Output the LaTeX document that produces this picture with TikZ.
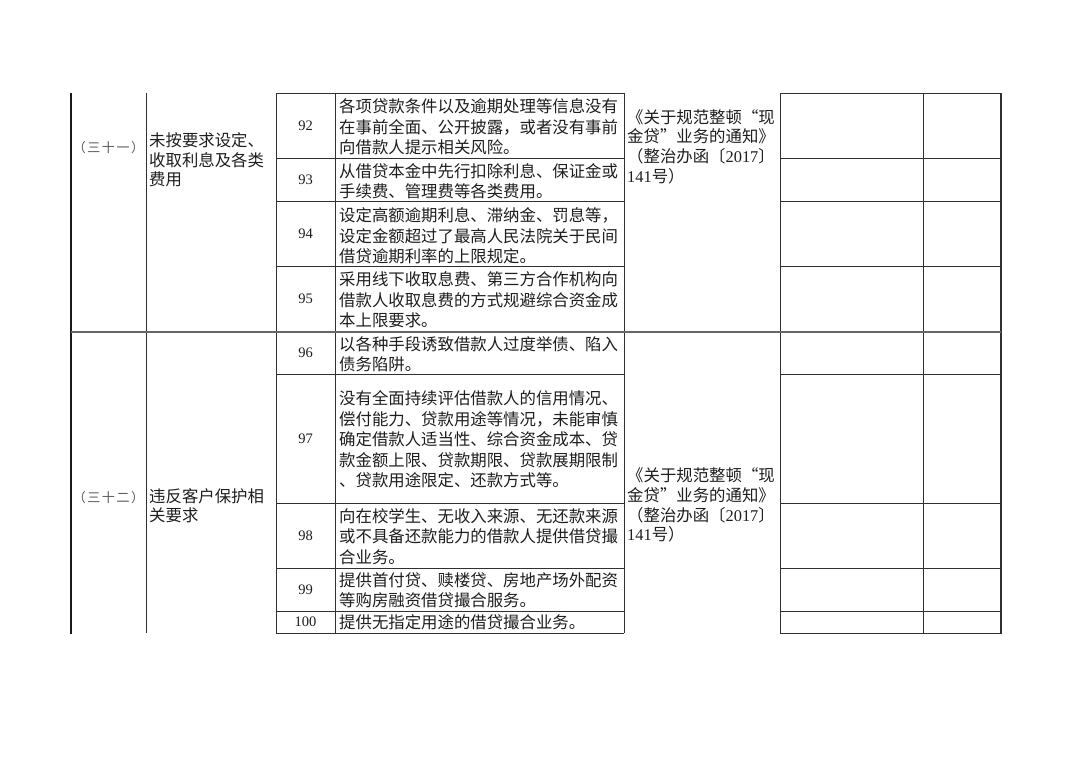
\documentclass[tikz,border=0pt]{standalone}
\usepackage{fontspec}
\setmainfont{Liberation Serif}
\newfontfamily\cjk{Noto Sans CJK SC}
\newfontfamily\cjksp{Noto Sans CJK SC}[LetterSpace=12]
\definecolor{txtc}{HTML}{1E1E1E}
\definecolor{linec}{HTML}{303030}
\definecolor{sepc}{HTML}{666666}
\newcommand\dg[1]{{\rmfamily #1}}
\tikzset{
  gridline/.style={draw=linec, line width=0.9pt},
  leftrule/.style={draw=black!90, line width=2.4pt},
  rightrule/.style={draw=linec, line width=1.4pt},
  seprule/.style={draw=sepc, line width=2.2pt},
  body/.style={font=\cjk\fontsize{16.4}{20.4}\selectfont, text=txtc, inner sep=0pt, align=left, anchor=west},
  doc/.style={font=\cjk\fontsize{16.4}{19.7}\selectfont, text=txtc, inner sep=0pt, align=left, anchor=west},
  cat/.style={font=\cjk\fontsize{16.4}{19.3}\selectfont, text=txtc, inner sep=0pt, align=left, anchor=west},
  secno/.style={font=\cjksp\fontsize{13}{15}\selectfont, text=black!65, inner sep=0pt},
  num/.style={font=\rmfamily\fontsize{14.5}{16}\selectfont, text=txtc, inner sep=0pt},
}
\begin{document}
\begin{tikzpicture}[x=1pt, y=-1pt]
\useasboundingbox[fill=white] (0,0) rectangle (1080,764);
% vertical lines
\foreach \xx in {146,276,335,624,780,923} {
  \draw[gridline] (\xx,93) -- (\xx,633);
}
\draw[leftrule] (71,93) -- (71,634);
\draw[rightrule] (1001,93) -- (1001,633.5);
% horizontal lines
\foreach \yy in {93,158,201,266,374,503,568,611,633} {
  \draw[gridline] (276,\yy) -- (624,\yy);
  \draw[gridline] (780,\yy) -- (1001,\yy);
}
\draw[seprule] (71,332) -- (1001,332);

% section 1
\node[secno] (s1) at (108.5,148) {（三十一）};
\node[cat] (c1) at (149,160) {未按要求设定、\\收取利息及各类\\费用};
\node[num] (n92) at (305.5,125.5) {92};
\node[num] (n93) at (305.5,179.5) {93};
\node[num] (n94) at (305.5,233.5) {94};
\node[num] (n95) at (305.5,299) {95};
\node[body] (t92) at (339,127) {各项贷款条件以及逾期处理等信息没有\\在事前全面、公开披露，或者没有事前\\向借款人提示相关风险。};
\node[body] (t93) at (339,181.5) {从借贷本金中先行扣除利息、保证金或\\手续费、管理费等各类费用。};
\node[body] (t94) at (339,236) {设定高额逾期利息、滞纳金、罚息等，\\设定金额超过了最高人民法院关于民间\\借贷逾期利率的上限规定。};
\node[body] (t95) at (339,300) {采用线下收取息费、第三方合作机构向\\借款人收取息费的方式规避综合资金成\\本上限要求。};
\node[doc] (d1) at (627,146.5) {《关于规范整顿“现\\金贷”业务的通知》\\（整治办函〔\dg{2017}〕\\\dg{141}号）};

% section 2
\node[secno] (s2) at (108.5,498) {（三十二）};
\node[cat] (c2) at (149,506) {违反客户保护相\\关要求};
\node[num] (n96) at (305.5,353) {96};
\node[num] (n97) at (305.5,438.5) {97};
\node[num] (n98) at (305.5,535.5) {98};
\node[num] (n99) at (305.5,589.5) {99};
\node[num] (n100) at (305.5,622) {100};
\node[body] (t96) at (339,354) {以各种手段诱致借款人过度举债、陷入\\债务陷阱。};
\node[body] (t97) at (339,439.5) {没有全面持续评估借款人的信用情况、\\偿付能力、贷款用途等情况，未能审慎\\确定借款人适当性、综合资金成本、贷\\款金额上限、贷款期限、贷款展期限制\\、贷款用途限定、还款方式等。};
\node[body] (t98) at (339,536.5) {向在校学生、无收入来源、无还款来源\\或不具备还款能力的借款人提供借贷撮\\合业务。};
\node[body] (t99) at (339,590.5) {提供首付贷、赎楼贷、房地产场外配资\\等购房融资借贷撮合服务。};
\node[body] (t100) at (339,622.5) {提供无指定用途的借贷撮合业务。};
\node[doc] (d2) at (627,505) {《关于规范整顿“现\\金贷”业务的通知》\\（整治办函〔\dg{2017}〕\\\dg{141}号）};
\end{tikzpicture}
\end{document}
